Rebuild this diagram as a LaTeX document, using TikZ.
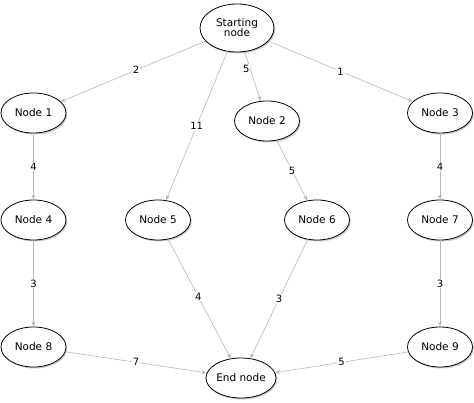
\documentclass[tikz,border=0pt]{standalone}
\usepackage{fontspec}
\setmainfont{DejaVu Sans}
\usetikzlibrary{shapes.geometric,arrows.meta,shadows}
\begin{document}
\begin{tikzpicture}[x=1pt,y=-1pt,
  gnode/.style={ellipse,draw=black,line width=0.8pt,fill=white,inner sep=0pt,
    minimum width=65pt,minimum height=40pt,font=\fontsize{10.5}{12}\selectfont,align=center,
    drop shadow={shadow xshift=1.2pt,shadow yshift=-1.5pt,opacity=0.35,fill=black!60}},
  conn/.style={draw=black!28,line width=0.6pt,-{Stealth[length=5pt,width=4pt]}},
  wlab/.style={fill=white,inner sep=1pt,font=\fontsize{10}{12}\selectfont}]
\useasboundingbox (0,0) rectangle (474,403);
\node[gnode,minimum width=74pt,minimum height=48pt] (s) at (237,28) {Starting\\[-2pt]node};
\node[gnode] (n1) at (33.5,113) {Node 1};
\node[gnode] (n2) at (267,121) {Node 2};
\node[gnode] (n3) at (440,113) {Node 3};
\node[gnode] (n4) at (33.5,220) {Node 4};
\node[gnode] (n5) at (158,220) {Node 5};
\node[gnode] (n6) at (317,220) {Node 6};
\node[gnode] (n7) at (440,220) {Node 7};
\node[gnode] (n8) at (33.5,347) {Node 8};
\node[gnode] (n9) at (440,347) {Node 9};
\node[gnode,minimum width=68pt] (e) at (241,378) {End node};
\draw[conn] (s) -- node[wlab,pos=0.48] {2} (n1);
\draw[conn] (s) -- node[wlab,pos=0.5] {11} (n5);
\draw[conn] (s) -- node[wlab,pos=0.35,xshift=-4pt] {5} (n2);
\draw[conn] (s) -- node[wlab,pos=0.5] {1} (n3);
\draw[conn] (n1) -- node[wlab] {4} (n4);
\draw[conn] (n2) -- node[wlab] {5} (n6);
\draw[conn] (n3) -- node[wlab] {4} (n7);
\draw[conn] (n4) -- node[wlab] {3} (n8);
\draw[conn] (n7) -- node[wlab] {3} (n9);
\draw[conn] (n5) -- node[wlab,pos=0.48] {4} (e);
\draw[conn] (n6) -- node[wlab] {3} (e);
\draw[conn] (n8) -- node[wlab] {7} (e);
\draw[conn] (n9) -- node[wlab] {5} (e);
\end{tikzpicture}
\end{document}
